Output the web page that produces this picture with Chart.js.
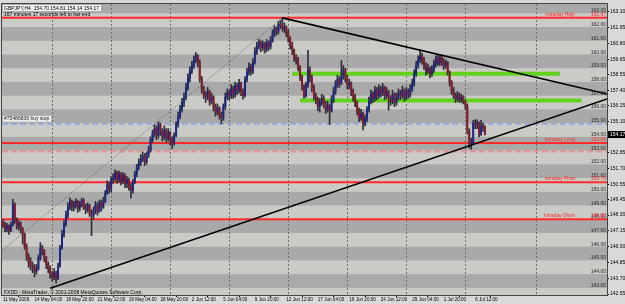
<!DOCTYPE html>
<html><head><meta charset="utf-8">
<script src="https://cdn.jsdelivr.net/npm/chart.js@4.4.0/dist/chart.umd.min.js"></script>
<style>html,body{margin:0;padding:0;background:#d9d9d9;}canvas{display:block}</style>
</head><body>
<canvas id="c" width="625" height="304"></canvas>
<script>
// ---- data (GBPJPY H4, bar index 0 = 11 May 2009 12:00) ----
const opens = [
147.8,147.6,147.3,147.5,147.2,147.6,149.1,147.9,147.5,147.7,
147.3,146.9,146.0,145.3,144.9,144.6,144.5,144.2,144.4,145.2,
145.9,145.7,145.2,144.7,144.4,144.0,143.8,144.1,143.7,144.6,
145.9,146.9,147.7,148.3,148.9,149.3,148.9,149.0,149.3,148.8,
149.1,149.4,148.9,148.7,149.0,148.5,148.3,148.6,149.0,148.6,
149.2,148.9,149.3,149.9,150.5,150.2,150.9,151.0,151.4,150.9,
151.3,150.8,151.2,150.6,150.9,150.4,150.1,150.7,151.3,151.8,
152.1,152.4,152.6,152.2,152.7,153.0,153.8,154.2,154.6,154.1,
154.9,154.4,154.0,154.5,153.9,154.3,153.8,153.5,154.1,154.9,
155.5,156.0,156.5,156.9,157.6,158.3,158.8,159.2,159.6,159.9,
159.4,158.2,157.5,157.1,156.9,157.3,156.6,156.9,156.2,155.8,
156.1,155.6,155.4,156.2,156.9,157.2,157.0,157.5,157.1,157.7,
157.4,157.9,157.3,157.0,158.2,158.7,159.1,158.8,159.4,160.2,
160.6,160.9,160.5,160.8,160.4,160.9,160.6,161.0,161.5,161.9,
161.7,162.2,162.1,161.9,162.0,161.6,161.2,160.7,160.3,159.8,
159.6,159.1,158.4,157.7,157.0,157.8,158.9,158.3,157.6,157.0,
156.7,156.2,156.5,156.8,156.4,156.0,156.3,155.9,156.7,157.3,
157.8,158.2,157.9,158.4,158.9,158.3,157.8,157.9,157.3,156.9,
156.5,155.9,155.4,155.7,155.0,155.3,156.0,156.6,157.1,156.8,
157.4,157.0,157.5,157.2,157.6,157.0,157.3,156.8,156.6,157.1,
156.5,156.9,157.2,157.0,157.4,156.9,157.3,157.1,157.5,157.9,
158.6,159.2,159.6,159.9,159.6,159.2,158.8,159.0,158.6,158.9,
159.3,159.7,159.4,159.8,159.5,159.2,159.4,158.7,158.0,157.4,
157.0,156.8,157.1,156.7,156.9,156.6,156.3,154.4,153.5,153.6,
155.0,154.9,155.0,154.2,154.8,154.70];
const highs = [
147.95,147.8,147.7,147.6,147.8,149.45,149.2,148.1,147.9,147.8,
147.4,147.0,146.2,145.5,145.2,144.9,144.7,144.7,145.4,146.3,
146.1,145.8,145.3,144.9,144.6,144.2,144.4,144.2,144.8,146.1,
147.2,147.9,148.6,149.2,149.55,149.4,149.3,149.5,149.4,149.3,
149.55,149.5,149.1,149.2,149.1,148.7,148.9,149.3,149.2,149.4,
149.4,149.6,150.1,150.8,150.7,151.1,151.3,151.6,151.5,151.5,
151.4,151.4,151.3,151.1,151.0,150.6,150.9,151.5,152.0,152.4,
152.7,152.9,152.8,152.9,153.3,154.0,154.5,154.9,154.8,155.1,
155.0,154.6,154.8,154.6,154.6,154.4,154.0,154.3,155.1,155.8,
156.3,156.8,157.2,157.9,158.6,159.1,159.5,159.9,160.15,160.0,
159.6,158.4,157.7,157.3,157.6,157.4,157.2,157.0,156.4,156.4,
156.2,155.8,156.4,157.2,157.5,157.4,157.8,157.7,158.0,157.9,
158.2,158.0,157.5,158.4,159.0,159.4,159.3,159.7,160.5,160.9,
161.1,161.0,161.0,160.9,161.1,161.0,161.3,161.8,162.1,162.0,
162.4,162.5,162.67,162.3,162.1,161.8,161.3,160.9,160.4,160.0,
159.8,159.2,158.5,157.8,158.0,160.3,159.1,158.5,157.8,157.2,
156.9,156.8,157.1,157.0,156.6,156.6,156.4,157.0,157.6,158.1,
158.5,158.4,159.55,159.2,159.0,158.5,158.2,158.0,157.5,157.1,
156.6,156.1,156.0,155.8,155.6,156.2,156.9,157.4,157.3,157.7,
157.6,157.8,157.7,157.9,157.7,157.6,157.4,157.0,157.4,157.2,
157.2,157.5,157.4,157.7,157.5,157.6,157.5,157.8,158.2,158.9,
159.5,159.9,160.3,160.1,159.8,159.4,159.3,159.1,159.2,159.6,
159.9,159.95,159.9,159.9,159.7,159.6,159.5,158.8,158.1,157.6,
157.2,157.3,157.2,157.1,157.0,156.7,156.4,154.6,153.9,155.2,
155.25,155.25,155.1,155.2,155.0,154.81];
const lows = [
147.4,147.1,147.1,146.9,147.1,147.5,147.7,147.3,147.2,147.0,
146.2,145.8,145.0,144.5,144.3,144.1,143.8,144.0,144.3,145.0,
145.4,144.9,144.4,144.1,143.7,143.5,143.6,143.35,143.6,144.5,
145.8,146.7,147.5,148.1,148.7,148.6,148.6,148.8,148.5,148.6,
148.9,148.7,148.4,148.5,148.2,146.8,148.0,148.4,148.3,148.5,
148.6,148.8,149.2,149.8,149.9,150.0,150.6,150.8,150.6,150.7,
150.5,150.6,150.3,150.3,150.1,149.55,149.9,150.6,151.1,151.6,
151.9,152.2,151.9,152.0,152.5,152.9,153.6,154.0,153.8,153.9,
154.1,153.7,153.8,153.6,153.7,153.4,153.15,153.4,154.0,154.7,
155.3,155.8,156.2,156.7,157.4,158.0,158.6,159.0,159.4,159.1,
158.0,157.2,156.8,156.5,156.7,156.3,156.4,155.9,155.5,155.6,
155.3,154.95,155.2,156.0,156.7,156.7,156.8,156.8,156.9,157.1,
157.2,157.0,156.75,156.9,158.0,158.5,158.5,158.6,159.3,160.0,
160.4,160.2,160.3,160.1,160.2,160.3,160.4,160.9,161.3,161.4,
161.5,161.9,161.7,161.6,161.3,160.9,160.4,160.0,159.5,159.3,
158.8,158.1,157.4,156.8,156.9,157.6,158.0,157.3,156.7,156.4,
155.9,155.8,156.3,156.1,155.7,155.8,154.9,155.8,156.5,157.1,
157.6,157.6,157.8,158.2,158.0,157.5,157.5,157.0,156.6,156.2,
155.6,155.1,155.2,154.5,154.8,155.1,155.8,156.4,156.5,156.6,
156.7,156.8,156.9,157.0,156.7,156.8,155.95,156.3,156.4,156.2,
156.3,156.7,156.7,156.8,156.6,156.7,156.8,156.9,157.3,157.7,
158.4,159.0,159.4,159.3,158.9,158.5,158.6,158.3,158.4,158.7,
159.1,159.2,159.2,159.2,158.9,159.0,158.5,157.7,157.1,156.8,
156.5,156.6,156.5,156.5,156.4,156.0,154.2,153.2,153.1,153.5,
154.6,154.6,154.0,154.1,154.4,154.14];
const closes = [
147.6,147.3,147.5,147.2,147.6,149.1,147.9,147.5,147.7,147.3,
146.9,146.0,145.3,144.9,144.6,144.5,144.2,144.4,145.2,145.9,
145.7,145.2,144.7,144.4,144.0,143.8,144.1,143.7,144.6,145.9,
146.9,147.7,148.3,148.9,149.3,148.9,149.0,149.3,148.8,149.1,
149.4,148.9,148.7,149.0,148.5,148.3,148.6,149.0,148.6,149.2,
148.9,149.3,149.9,150.5,150.2,150.9,151.0,151.4,150.9,151.3,
150.8,151.2,150.6,150.9,150.4,150.1,150.7,151.3,151.8,152.1,
152.4,152.6,152.2,152.7,153.0,153.8,154.2,154.6,154.1,154.9,
154.4,154.0,154.5,153.9,154.3,153.8,153.5,154.1,154.9,155.5,
156.0,156.5,156.9,157.6,158.3,158.8,159.2,159.6,159.9,159.4,
158.2,157.5,157.1,156.9,157.3,156.6,156.9,156.2,155.8,156.1,
155.6,155.4,156.2,156.9,157.2,157.0,157.5,157.1,157.7,157.4,
157.9,157.3,157.0,158.2,158.7,159.1,158.8,159.4,160.2,160.6,
160.9,160.5,160.8,160.4,160.9,160.6,161.0,161.5,161.9,161.7,
162.2,162.1,161.9,162.0,161.6,161.2,160.7,160.3,159.8,159.6,
159.1,158.4,157.7,157.0,157.8,158.9,158.3,157.6,157.0,156.7,
156.2,156.5,156.8,156.4,156.0,156.3,155.9,156.7,157.3,157.8,
158.2,157.9,158.4,158.9,158.3,157.8,157.9,157.3,156.9,156.5,
155.9,155.4,155.7,155.0,155.3,156.0,156.6,157.1,156.8,157.4,
157.0,157.5,157.2,157.6,157.0,157.3,156.8,156.6,157.1,156.5,
156.9,157.2,157.0,157.4,156.9,157.3,157.1,157.5,157.9,158.6,
159.2,159.6,159.9,159.6,159.2,158.8,159.0,158.6,158.9,159.3,
159.7,159.4,159.8,159.5,159.2,159.4,158.7,158.0,157.4,157.0,
156.8,157.1,156.7,156.9,156.6,156.3,154.4,153.5,153.6,155.0,
154.9,155.0,154.2,154.8,154.7,154.17];

const xTickIndex = [0,16,32,48,64,80,96,112,128,144,160,176,192,208,224,240];
const xTickLabels = ['11 May 2009','14 May 04:00','18 May 20:00','21 May 12:00','26 May 04:00','28 May 20:00',
  '2 Jun 12:00','5 Jun 04:00','9 Jun 20:00','12 Jun 12:00','17 Jun 04:00','19 Jun 20:00',
  '24 Jun 12:00','29 Jun 04:00','1 Jul 20:00','6 Jul 12:00'];
const yTickValues = [163.10,161.95,160.80,159.65,158.55,157.40,156.25,155.10,154.17,152.85,151.70,
  150.55,149.45,148.30,147.15,146.00,144.85,143.70,142.55];
const currentPrice = 154.17;
const levelLabels = [163,162,161,160,159,158,157,156,155,154,153,152,151,150,149,148,147,146,145,144,143];
const gridIndex = [25,55,85,115,145,175,205,235,271];
const intradayNames = ['Intraday High','Intraday Long','Intraday Pivot','Intraday Short'];
const intradayValues = [162.67,153.56,150.70,148.00];
const buyStopValue = 154.95, buyStopText = '#75486836 buy stop';
const stopLossValue = 152.93;
const greenStart = [147,151], greenEnd = [283,294], greenValue = [158.59,156.65];
const upperTrend = [[142,162.67],[307,157.12]];
const lowerTrend = [[24,142.98],[307,156.76]];
const dottedTrend = [[-0.5,145.72],[142,162.67]];
const headerLine1 = 'GBPJPY,H4  154.70 154.81 154.14 154.17';
const headerLine2 = '167 minutes 17 seconds left to bar end';
const footerText = 'FXDD - MetaTrader, \u00a9 2001-2008 MetaQuotes Software Corp.';

// ---- styles ----
const FONT = '"Liberation Sans", Arial, sans-serif';
const LIGHT = '#cacac6', DARK = '#a9a9a9';
const BULL = '#1a2688', BEAR = '#861a28', WICK = '#2e2e3a';
const RED = '#ff2b2b';

const hl = (v) => [{x:-0.5,y:v},{x:307,y:v}];
const seg = (p) => p.map(q => ({x:q[0], y:q[1]}));
const lineDs = (data, color, width, extra) => Object.assign({type:'line', data, borderColor:color, borderWidth:width,
  pointRadius:0, fill:false, tension:0, order:1}, extra||{});

const datasets = [];
intradayValues.forEach(v => datasets.push(lineDs(hl(v), RED, 2, {order:20})));
datasets.push(lineDs(hl(buyStopValue), '#98a6d8', 2, {borderDash:[6,3], order:20}));
datasets.push(lineDs(hl(stopLossValue), '#e89090', 2, {borderDash:[6,3], order:20}));
greenValue.forEach((v,i) => datasets.push(lineDs([{x:greenStart[i],y:v},{x:greenEnd[i],y:v}], '#62d21c', 4, {order:20, borderCapStyle:'butt'})));
datasets.push({type:'bar', data: highs.map((h,i)=>({x:i, y:[lows[i], h]})), backgroundColor: WICK,
  barThickness:1, grouped:false, order:6});
datasets.push({type:'bar', data: opens.map((o,i)=>({x:i, y:[o, closes[i]]})),
  backgroundColor: opens.map((o,i)=> closes[i] >= o ? BULL : BEAR), barThickness:1.3, grouped:false, order:5});
datasets.push(lineDs(seg(upperTrend), '#000', 1.6));
datasets.push(lineDs(seg(lowerTrend), '#000', 1.6));
datasets.push(lineDs(seg(dottedTrend), '#555', 1, {borderDash:[1,2]}));

const mt4 = {
  id:'mt4',
  beforeDraw(chart){
    const {ctx, chartArea:a, scales:{x,y}} = chart;
    ctx.save();
    ctx.fillStyle = '#d9d9d9'; ctx.fillRect(0,0,chart.width,chart.height);
    ctx.beginPath(); ctx.rect(a.left,a.top,a.right-a.left,a.bottom-a.top); ctx.clip();
    ctx.fillStyle = LIGHT; ctx.fillRect(a.left,a.top,a.right-a.left,a.bottom-a.top);
    levelLabels.forEach(lv => {
      if (lv % 2 === 1) {
        const y1 = y.getPixelForValue(lv+1), y0 = y.getPixelForValue(lv);
        ctx.fillStyle = DARK; ctx.fillRect(a.left, y1, a.right-a.left, y0-y1);
      }
    });
    ctx.strokeStyle = '#6e6e6e'; ctx.lineWidth = 1; ctx.setLineDash([2,2]);
    gridIndex.forEach(g => {
      const px = Math.round(x.getPixelForValue(g)) + 0.5;
      ctx.beginPath(); ctx.moveTo(px,a.top); ctx.lineTo(px,a.bottom); ctx.stroke();
    });
    ctx.restore();
    const py = y.getPixelForValue(currentPrice);
    ctx.fillStyle = '#000'; ctx.fillRect(a.right+1, py-3.5, chart.width-a.right-1, 7);
  },
  afterDatasetsDraw(chart){
    const {ctx, chartArea:a, scales:{x,y}} = chart;
    ctx.save();
    ctx.font = '5px ' + FONT; ctx.textBaseline = 'alphabetic';
    ctx.textAlign = 'right'; ctx.fillStyle = '#2a2a2a';
    levelLabels.forEach(lv => ctx.fillText(lv.toFixed(2), a.right-1, y.getPixelForValue(lv)-1));
    ctx.fillStyle = RED;
    intradayValues.forEach((v,i) => {
      const py = y.getPixelForValue(v) - 2;
      ctx.textAlign = 'right';
      ctx.fillText(intradayNames[i], a.right-32, py);
      ctx.fillText(v.toFixed(2), a.right-1, py);
    });
    const by = y.getPixelForValue(buyStopValue);
    ctx.textAlign = 'left';
    const bw = ctx.measureText(buyStopText).width;
    ctx.fillStyle = '#ececec'; ctx.fillRect(a.left+1, by-8, bw+3, 6);
    ctx.fillStyle = '#222'; ctx.fillText(buyStopText, a.left+2, by-3.5);
    const hw = ctx.measureText(headerLine1).width;
    ctx.fillStyle = '#f2f2f2'; ctx.fillRect(a.left+1, a.top+1, hw+3, 6);
    ctx.fillStyle = '#000';
    ctx.fillText(headerLine1, a.left+2, a.top+6);
    ctx.fillText(headerLine2, a.left+2, a.top+12);
    ctx.fillText(footerText, a.left+2, a.bottom-1.5);
    ctx.strokeStyle = '#444'; ctx.lineWidth = 1;
    ctx.strokeRect(a.left-0.5, a.top-0.5, a.right-a.left+1, a.bottom-a.top+1);
    ctx.restore();
  }
};

new Chart(document.getElementById('c'), {
  type:'bar',
  data:{ datasets },
  options:{
    responsive:false, animation:false, devicePixelRatio:1,
    layout:{padding:{left:2, top:1, right:0, bottom:0}},
    plugins:{legend:{display:false}, tooltip:{enabled:false}},
    scales:{
      x:{ type:'linear', min:-0.5, max:307, offset:false,
        afterBuildTicks: s => { s.ticks = xTickIndex.map(v => ({value:v})); },
        afterFit: s => { s.height = 9; },
        ticks:{ font:{size:4.6, family:FONT}, color:'#000', align:'start', maxRotation:0, minRotation:0,
          autoSkip:false, padding:0, callback:(v,i) => xTickLabels[i] },
        grid:{ drawOnChartArea:false, tickLength:2, color:'#000' },
        border:{ display:true, color:'#000' } },
      y:{ type:'linear', position:'right', min:142.48, max:163.68,
        afterBuildTicks: s => { s.ticks = yTickValues.map(v => ({value:v})); },
        afterFit: s => { s.width = 18; },
        ticks:{ font:{size:5, family:FONT}, padding:1,
          color: c => (c.tick && c.tick.value === currentPrice) ? '#fff' : '#000',
          callback: v => Number(v).toFixed(2) },
        grid:{ drawOnChartArea:false, tickLength:2, color:'#000' },
        border:{ display:true, color:'#000' } }
    }
  },
  plugins:[mt4]
});
</script>
</body></html>
